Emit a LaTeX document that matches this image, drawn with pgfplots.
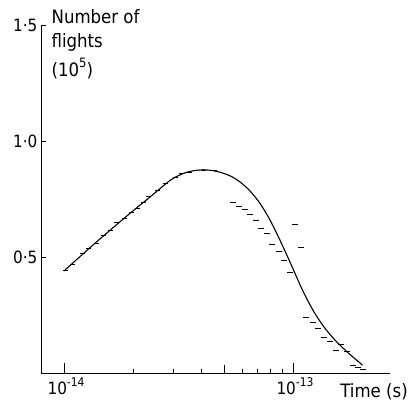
\documentclass[border=0pt]{standalone}
\usepackage{fontspec}
\setmainfont{DejaVu Sans Condensed}
\usepackage{pgfplots}
\pgfplotsset{compat=1.18}

\newcommand{\tenpow}[1]{10\raisebox{0.5em}{\fontsize{12}{12}\selectfont#1}}

\begin{document}
\begin{tikzpicture}[x=1bp,y=1bp]
\useasboundingbox (0,0) rectangle (411,406);
\begin{axis}[
  at={(41bp,33bp)}, anchor=south west,
  scale only axis, width=349bp, height=348bp,
  xmode=log, xmin=7.93e-15, xmax=2.652e-13,
  ymin=0, ymax=1.5,
  axis lines=left, axis line style={-, line width=0.9bp},
  tick align=inside, xtick pos=bottom, ytick pos=left,
  tick style={black, line width=0.8bp},
  major tick length=10bp, minor tick length=4bp,
  xtick={1e-14,1e-13},
  xticklabels={\tenpow{-14},\tenpow{-13}},
  x tick label style={yshift=-1bp, xshift=2bp},
  minor xtick={2e-14,3e-14,4e-14,6e-14,7e-14,8e-14,9e-14},
  extra x ticks={5e-14}, extra x tick labels={},
  extra x tick style={major tick length=8bp},
  ytick=\empty,
  extra y ticks={0.5,1,1.5}, extra y tick labels={0·5,1·0,1·5},
  extra y tick style={major tick length=5bp},
  tick label style={font=\fontsize{17}{19}\selectfont},
  clip=false,
]
% fitted curve
\addplot[black, line width=1.1bp, smooth, mark=none] coordinates {
  (1.000e-14,0.440) (1.390e-14,0.566) (1.941e-14,0.688) (2.377e-14,0.759)
  (2.904e-14,0.830) (3.214e-14,0.854) (3.548e-14,0.869) (4.055e-14,0.876)
  (4.645e-14,0.869) (5.309e-14,0.850) (5.875e-14,0.823) (6.486e-14,0.785)
  (7.178e-14,0.731) (7.943e-14,0.659) (8.770e-14,0.573) (9.705e-14,0.478)
  (1.054e-13,0.398) (1.109e-13,0.350) (1.227e-13,0.268) (1.355e-13,0.203)
  (1.500e-13,0.150) (1.660e-13,0.106) (1.832e-13,0.068) (2.014e-13,0.034)
};
% measured counts, rising side
\addplot[only marks, mark=-, mark size=2.5bp, mark options={line width=0.9bp}] coordinates {
  (1.010e-14,0.444) (1.084e-14,0.466) (1.199e-14,0.517) (1.274e-14,0.539)
  (1.380e-14,0.560) (1.480e-14,0.595) (1.589e-14,0.616) (1.703e-14,0.647)
  (1.846e-14,0.668) (1.963e-14,0.694) (2.084e-14,0.711) (2.213e-14,0.737)
  (2.350e-14,0.759) (2.572e-14,0.789) (2.786e-14,0.819) (3.083e-14,0.841)
  (3.273e-14,0.858) (3.548e-14,0.866) (4.046e-14,0.875) (4.560e-14,0.871)
};
% measured counts, falling side
\addplot[only marks, mark=-, mark size=3bp, mark options={line width=0.9bp}] coordinates {
  (5.470e-14,0.733) (5.808e-14,0.720) (6.166e-14,0.703) (6.486e-14,0.685)
  (6.887e-14,0.659) (7.244e-14,0.625) (7.691e-14,0.603) (8.091e-14,0.556)
  (8.690e-14,0.526) (9.141e-14,0.487) (9.705e-14,0.435) (1.021e-13,0.642)
  (1.084e-13,0.543) (1.140e-13,0.241) (1.222e-13,0.216) (1.285e-13,0.194)
  (1.365e-13,0.155) (1.452e-13,0.138) (1.542e-13,0.099) (1.622e-13,0.125)
  (1.722e-13,0.091) (1.828e-13,0.034) (1.923e-13,0.022) (2.023e-13,0.017)
};
\node[anchor=base west, inner sep=0pt, font=\fontsize{18.5}{20}\selectfont]
  at (rel axis cs:0.03,1.003) {Number of};
\node[anchor=base west, inner sep=0pt, font=\fontsize{18.5}{20}\selectfont]
  at (rel axis cs:0.03,0.934) {flights};
\node[anchor=base west, inner sep=0pt, font=\fontsize{18.5}{20}\selectfont]
  at (rel axis cs:0.03,0.853) {(10\raisebox{0.45em}{\fontsize{13}{13}\selectfont 5})};
\node[anchor=base east, inner sep=0pt, font=\fontsize{18.5}{20}\selectfont]
  at (rel axis cs:1.0516,-0.0718) {Time (s)};
\end{axis}
\end{tikzpicture}
\end{document}
